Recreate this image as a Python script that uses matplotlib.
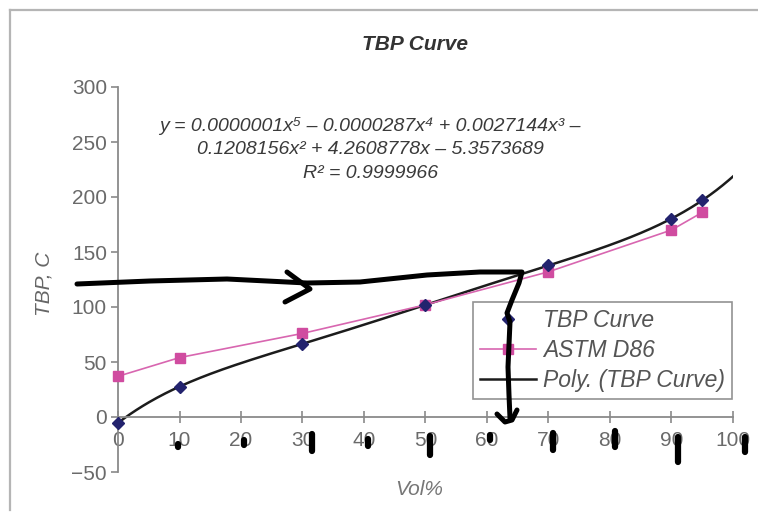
import matplotlib
matplotlib.use("Agg")
import matplotlib.pyplot as plt
import numpy as np
from matplotlib.lines import Line2D

# donnees
vol = [0, 10, 30, 50, 70, 90, 95]
tbp = [-5.4, 27.6, 66.6, 101.8, 137.8, 180.3, 197.0]
astm = [37, 54, 76, 102, 132, 170, 186]
xticks = list(range(0, 101, 10))
yticks = list(range(-50, 301, 50))
equation = ("y = 0.0000001x\u2075 \u2013 0.0000287x\u2074 + 0.0027144x\u00b3 \u2013\n"
            "0.1208156x\u00b2 + 4.2608778x \u2013 5.3573689\n"
            "R\u00b2 = 0.9999966")

fams = ['Liberation Sans', 'DejaVu Sans']
plt.rcParams['font.family'] = fams

W, H = 758, 513
fig = plt.figure(figsize=(W / 100, H / 100), dpi=100)
ax = fig.add_axes([118 / W, 1 - 472 / H, 615 / W, 385 / H])

# courbe de tendance polynomiale (ordre 5) comme dans Excel
coef = np.polyfit(vol, tbp, 5)
xs = np.linspace(0, 100, 300)
ax.plot(xs, np.polyval(coef, xs), color="#1c1c1c", lw=1.8, label="Poly. (TBP Curve)", zorder=2)
ax.plot(vol, astm, color="#d866b0", lw=1.2, marker="s", ms=7, mfc="#d04ca0", mec="#d04ca0",
        label="ASTM D86", clip_on=False, zorder=3)
ax.plot(vol, tbp, ls="none", marker="D", ms=6, color="#23236e", label="TBP Curve",
        clip_on=False, zorder=4)

ax.set_xlim(0, 100)
ax.set_ylim(-50, 300)
ax.set_xticks(xticks)
ax.set_yticks(yticks)
ax.set_yticklabels([str(v).replace("-", "\u2212") for v in yticks])
for s in ["top", "right"]:
    ax.spines[s].set_visible(False)
ax.spines["bottom"].set_position(("data", 0))
for s in ["left", "bottom"]:
    ax.spines[s].set_color("#8a8a8a")
    ax.spines[s].set_linewidth(1.3)
ax.tick_params(axis="x", direction="inout", length=8, width=1.2, color="#8a8a8a",
               labelsize=15, labelcolor="#6a6a6a", pad=6)
ax.tick_params(axis="y", direction="out", length=5, width=1.2, color="#8a8a8a",
               labelsize=15, labelcolor="#6a6a6a", pad=3)

ax.set_xlabel("Vol%", fontsize=15, style="italic", color="#777777")
ax.xaxis.set_label_coords(0.49, -0.02)
ax.set_ylabel("TBP, C", fontsize=15, style="italic", color="#666666")
ax.yaxis.set_label_coords(-0.105, 0.49)
fig.text(415 / W, 1 - 45 / H, "TBP Curve", ha="center", va="center", fontsize=15,
         fontweight="bold", style="italic", color="#333333")
ax.text(0.41, 0.838, equation, transform=ax.transAxes, ha="center", va="center",
        fontsize=14, style="italic", color="#3a3a3a", linespacing=1.5)

h, l = ax.get_legend_handles_labels()
leg = ax.legend(h[::-1], l[::-1], loc="upper right", bbox_to_anchor=(0.998, 0.442),
                fontsize=16.5, frameon=True, fancybox=False, edgecolor="#777777",
                handlelength=2.45, handletextpad=0.3, borderpad=0.3, labelspacing=0.32,
                borderaxespad=0)
for t in leg.get_texts():
    t.set_style("italic")
    t.set_color("#555555")
leg.get_frame().set_linewidth(1.2)

# cadre gris autour de la figure
def px(x, y):
    return x / W, 1 - y / H

fig.add_artist(Line2D(*zip(px(10, 10), px(W, 10)), color="#b5b5b5", lw=1.6))
fig.add_artist(Line2D(*zip(px(10, 10), px(10, 510)), color="#b5b5b5", lw=1.6))

# annotations a la main (fleche noire)
def stroke(pts, lw=3.6):
    xs_, ys_ = zip(*[px(a, b) for a, b in pts])
    fig.add_artist(Line2D(xs_, ys_, color="black", lw=lw, solid_capstyle="round",
                          solid_joinstyle="round", zorder=10))

stroke([(77, 284), (150, 281), (227, 279), (307, 283), (360, 282), (427, 275), (480, 272), (522, 272),
        (519, 283), (512, 300), (507, 313), (510, 322), (508, 367), (509, 395), (510, 418)])
stroke([(287, 272), (310, 289), (285, 302)])
stroke([(497, 414), (505, 422), (512, 420), (517, 410)])

marks = [(178, 444, 447), (244, 440, 445), (312, 434, 451), (368, 439, 446), (430, 436, 455),
         (490, 435, 440), (553, 433, 450), (615, 431, 447), (678, 437, 462), (745, 437, 452)]
for x, y0, y1 in marks:
    stroke([(x, y0), (x, y1)], lw=4.5)

fig.savefig("out.png", dpi=100)
